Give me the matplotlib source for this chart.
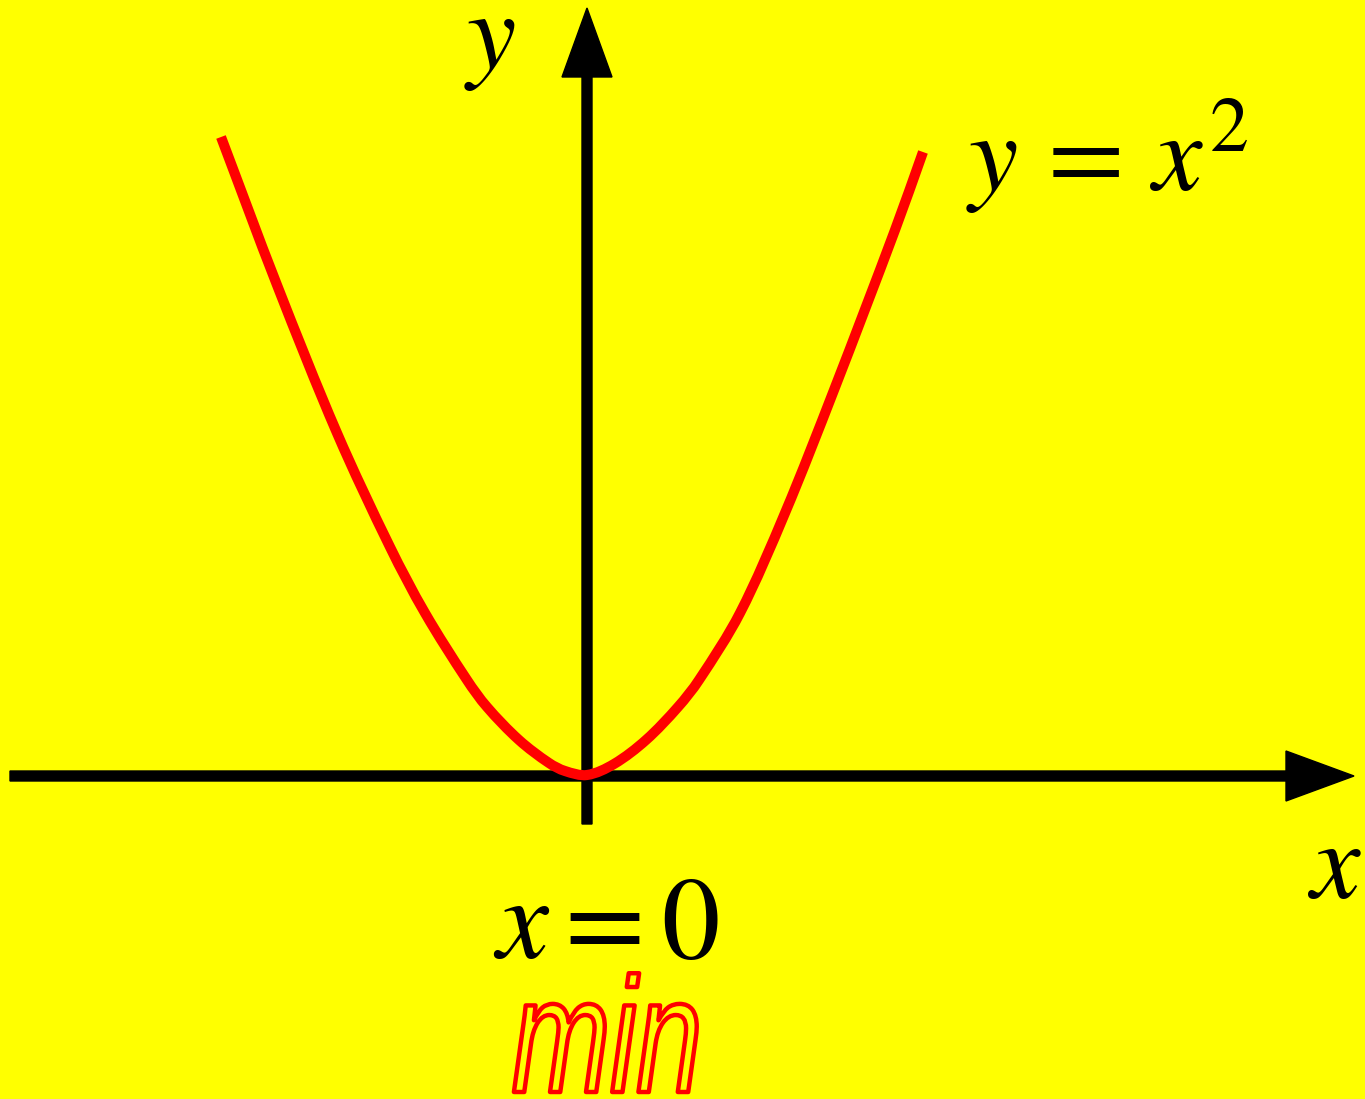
"""
Sketch of y = x^2 with its minimum at x = 0.
"""

import matplotlib.pyplot as plt
import matplotlib.patheffects as pe
import numpy as np
from matplotlib.patches import PathPatch
from matplotlib.path import Path
from matplotlib.transforms import Affine2D

plt.rcParams["mathtext.fontset"] = "stix"

# curve samples (1 unit = 100 px, origin where the axes cross)
curve_x = [-3.66, -3.10, -2.50, -1.97, -1.62, -1.20, -1.00, -0.68, -0.38,
           -0.22, 0.00, 0.27, 0.59, 0.91, 1.12, 1.53, 1.98, 2.47, 3.08,
           3.36]
curve_y = [6.39, 4.91, 3.43, 2.29, 1.63, 0.96, 0.69, 0.36, 0.13,
           0.05, 0.01, 0.12, 0.36, 0.69, 0.96, 1.63, 2.63, 3.86, 5.46,
           6.24]

curve_label = r"$y\,=\,x^{2}$"
min_label = r"$x = 0$"
min_word = "min"

BG = "#ffff00"
RED = "#ff0000"


class SqueezedStroke(pe.Stroke):
    """Stroke path effect that also narrows the glyphs around x0 (display px)."""

    def __init__(self, x0, sx, **kwargs):
        super().__init__(**kwargs)
        self._squeeze = Affine2D().translate(-x0, 0).scale(sx, 1).translate(x0, 0)

    def draw_path(self, renderer, gc, tpath, affine, rgbFace):
        super().draw_path(renderer, gc, tpath, affine + self._squeeze, rgbFace)


def smooth_path(xs, ys):
    """Chord-length Catmull-Rom through the samples, as cubic Bezier segments."""
    pts = np.column_stack([xs, ys])
    t = np.concatenate([[0], np.cumsum(np.hypot(*np.diff(pts, axis=0).T))])
    n = len(pts)
    tang = np.empty_like(pts)
    tang[0] = (pts[1] - pts[0]) / (t[1] - t[0])
    tang[-1] = (pts[-1] - pts[-2]) / (t[-1] - t[-2])
    tang[1:-1] = (pts[2:] - pts[:-2]) / (t[2:] - t[:-2])[:, None]
    verts = [pts[0]]
    codes = [Path.MOVETO]
    for i in range(n - 1):
        h = (t[i + 1] - t[i]) / 3
        verts += [pts[i] + tang[i] * h, pts[i + 1] - tang[i + 1] * h, pts[i + 1]]
        codes += [Path.CURVE4] * 3
    return Path(np.array(verts), codes)


fig = plt.figure(figsize=(13.65, 10.99), dpi=100, facecolor=BG)
ax = fig.add_axes([0, 0, 1, 1])
ax.set_facecolor(BG)
ax.set_xlim(-5.87, 7.78)
ax.set_ylim(-3.23, 7.76)
ax.axis("off")

# axes with arrow heads
ax.arrow(-5.77, 0, 13.44, 0, width=0.10, head_width=0.50, head_length=0.68,
         length_includes_head=True, color="black", zorder=2)
ax.arrow(0, -0.48, 0, 8.16, width=0.10, head_width=0.50, head_length=0.69,
         length_includes_head=True, color="black", zorder=2)

ax.add_patch(PathPatch(smooth_path(curve_x, curve_y), fill=False,
                       edgecolor=RED, lw=7.3, capstyle="butt",
                       joinstyle="round", zorder=3))

ax.text(-0.97, 7.08, r"$y$", fontsize=80, ha="center", va="baseline")
ax.text(7.47, -1.22, r"$x$", fontsize=80, ha="center", va="baseline")
ax.text(5.20, 5.86, curve_label, fontsize=80, ha="center", va="baseline")
ax.text(0.19, -1.82, min_label, fontsize=84, ha="center", va="baseline")

min_pos = (0.20, -3.16)
x0 = ax.transData.transform(min_pos)[0]
ax.text(*min_pos, min_word, fontsize=118, ha="center", va="baseline",
        style="italic", color=BG, family=["Liberation Sans", "DejaVu Sans"],
        path_effects=[SqueezedStroke(x0, 0.72, linewidth=3.2, foreground=RED)])

fig.savefig("out.png", dpi=100, facecolor=BG)
